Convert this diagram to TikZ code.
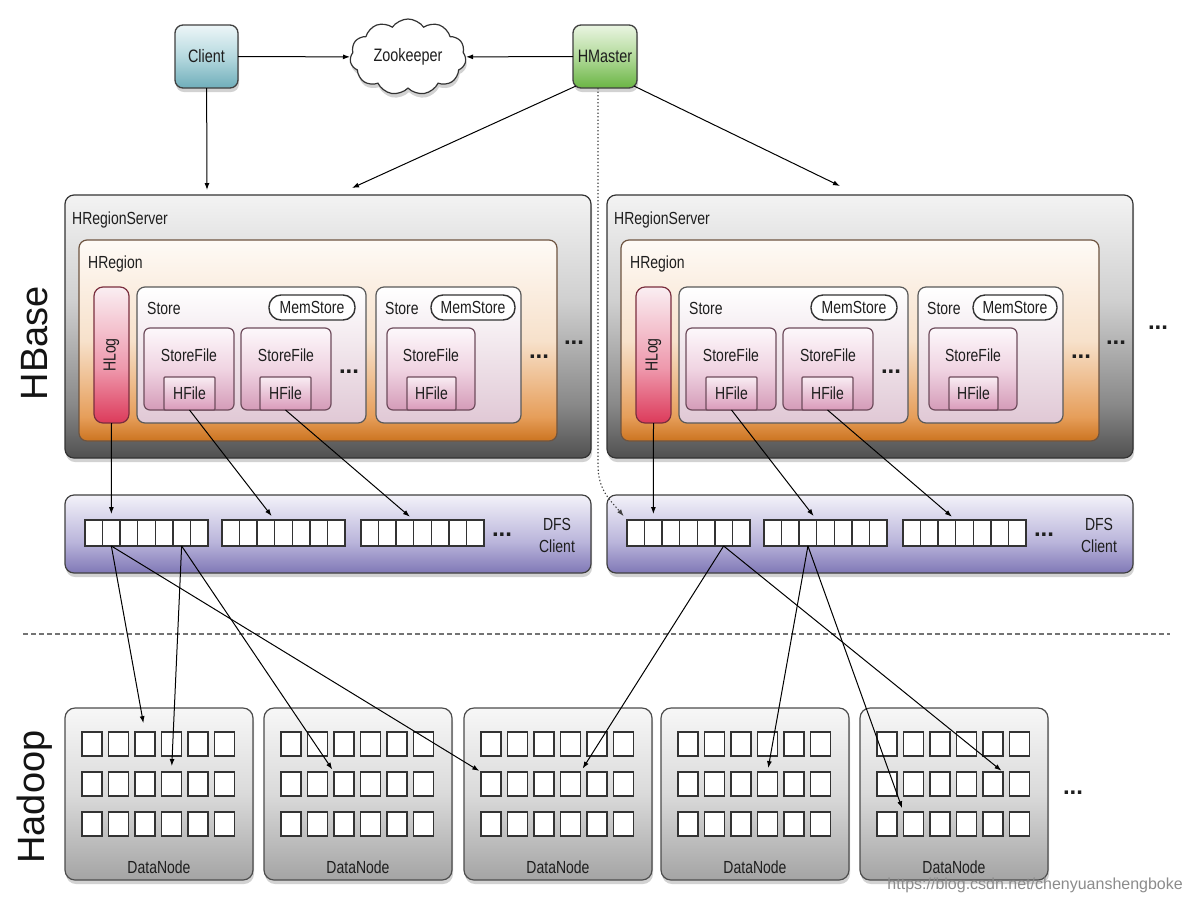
\documentclass[tikz,border=0pt]{standalone}
\usepackage{fontspec}
\setmainfont{Liberation Sans}[FakeStretch=0.8]
\newfontfamily\plainsans{Liberation Sans}
\usetikzlibrary{shapes.symbols,shadows,arrows.meta,calc}

\definecolor{txt}{HTML}{1E1E1E}
\definecolor{rsA}{HTML}{505050}\definecolor{rsB}{HTML}{888888}\definecolor{rsC}{HTML}{D0D0D0}\definecolor{rsD}{HTML}{F3F3F3}
\definecolor{hrA}{HTML}{CC7420}\definecolor{hrB}{HTML}{E69E5A}\definecolor{hrC}{HTML}{F7E1CB}\definecolor{hrD}{HTML}{FEFAF6}
\definecolor{hlA}{HTML}{DC3A5A}\definecolor{hlB}{HTML}{EE98AC}\definecolor{hlC}{HTML}{FAEEF2}
\definecolor{stA}{HTML}{E0C8D5}\definecolor{stB}{HTML}{FFFFFF}
\definecolor{sfA}{HTML}{D49BB8}\definecolor{sfB}{HTML}{F0D4E2}\definecolor{sfC}{HTML}{FDF8FB}
\definecolor{hfA}{HTML}{D99ABA}\definecolor{hfB}{HTML}{F9EDF3}
\definecolor{dfA}{HTML}{8078B6}\definecolor{dfB}{HTML}{BAB5DB}\definecolor{dfC}{HTML}{F3F2F9}
\definecolor{dnA}{HTML}{A4A4A4}\definecolor{dnB}{HTML}{DADADA}\definecolor{dnC}{HTML}{F7F7F7}
\definecolor{clA}{HTML}{6FAEBA}\definecolor{clB}{HTML}{B6D9DF}\definecolor{clC}{HTML}{EDF6F8}
\definecolor{hmA}{HTML}{6AB544}\definecolor{hmB}{HTML}{B2DA9A}\definecolor{hmC}{HTML}{EAF5E2}
\definecolor{hrBorder}{HTML}{6E5440}
\definecolor{hlBorder}{HTML}{7A2E3E}
\definecolor{sfBorder}{HTML}{6E4C5C}

\pgfdeclareverticalshading{rsshade}{100bp}{color(0bp)=(rsA); color(25bp)=(rsA); color(35bp)=(rsB); color(55bp)=(rsC); color(75bp)=(rsD); color(100bp)=(rsD)}
\pgfdeclareverticalshading{hrshade}{100bp}{color(0bp)=(hrA); color(25bp)=(hrA); color(31bp)=(hrB); color(50bp)=(hrC); color(75bp)=(hrD); color(100bp)=(hrD)}
\pgfdeclareverticalshading{hlshade}{100bp}{color(0bp)=(hlA); color(25bp)=(hlA); color(45bp)=(hlB); color(75bp)=(hlC); color(100bp)=(hlC)}
\pgfdeclareverticalshading{stshade}{100bp}{color(0bp)=(stA); color(25bp)=(stA); color(75bp)=(stB); color(100bp)=(stB)}
\pgfdeclareverticalshading{sfshade}{100bp}{color(0bp)=(sfA); color(25bp)=(sfA); color(50bp)=(sfB); color(75bp)=(sfC); color(100bp)=(sfC)}
\pgfdeclareverticalshading{hfshade}{100bp}{color(0bp)=(hfA); color(25bp)=(hfA); color(75bp)=(hfB); color(100bp)=(hfB)}
\pgfdeclareverticalshading{dfshade}{100bp}{color(0bp)=(dfA); color(25bp)=(dfA); color(45bp)=(dfB); color(75bp)=(dfC); color(100bp)=(dfC)}
\pgfdeclareverticalshading{dnshade}{100bp}{color(0bp)=(dnA); color(25bp)=(dnA); color(50bp)=(dnB); color(75bp)=(dnC); color(100bp)=(dnC)}
\pgfdeclareverticalshading{clshade}{100bp}{color(0bp)=(clA); color(25bp)=(clA); color(50bp)=(clB); color(75bp)=(clC); color(100bp)=(clC)}
\pgfdeclareverticalshading{hmshade}{100bp}{color(0bp)=(hmA); color(25bp)=(hmA); color(50bp)=(hmB); color(75bp)=(hmC); color(100bp)=(hmC)}

\tikzset{
  lbl/.style={text=txt, font=\fontsize{17.5}{21}\selectfont, inner sep=0pt},
  frame/.style={line width=1.2pt, inner sep=0pt, outer sep=0pt, text=txt, font=\fontsize{17.5}{21}\selectfont},
  shad/.style={drop shadow={shadow xshift=1pt, shadow yshift=-4pt, opacity=0.35}},
  rsbox/.style={frame, draw=black!80, rounded corners=9pt, shading=rsshade, shade, shad},
  hrbox/.style={frame, draw=hrBorder, rounded corners=8pt, shading=hrshade, shade},
  hlogbox/.style={frame, draw=hlBorder, rounded corners=9pt, shading=hlshade, shade},
  stbox/.style={frame, draw=black!65, rounded corners=8pt, shading=stshade, shade},
  sfbox/.style={frame, draw=sfBorder, rounded corners=6pt, shading=sfshade, shade},
  hfbox/.style={frame, draw=sfBorder, rounded corners=1pt, shading=hfshade, shade},
  msbox/.style={frame, draw=black!80, line width=1.4pt, rounded corners=12pt, fill=white},
  dfsbox/.style={frame, draw=black!75, rounded corners=9pt, shading=dfshade, shade, shad},
  dnbox/.style={frame, draw=black!70, rounded corners=10pt, shading=dnshade, shade, shad},
  clbox/.style={frame, draw=black!75, line width=1.3pt, rounded corners=8pt, shading=clshade, shade, shad, font=\fontsize{18}{20}\selectfont},
  hmbox/.style={frame, draw=black!75, line width=1.3pt, rounded corners=8pt, shading=hmshade, shade, shad, font=\fontsize{18}{20}\selectfont},
  zkbox/.style={cloud, cloud puffs=11, cloud puff arc=110, aspect=1.7, draw=black!80, line width=1.2pt, fill=white, minimum width=116pt, minimum height=76pt, inner sep=0pt, text=txt, font=\fontsize{18}{20}\selectfont, shad},
  cellbox/.style={draw=black!80, line width=1.4pt, fill=white, inner sep=0pt, outer sep=0pt, anchor=north west},
  arr/.style={-{Latex[length=7pt,width=5pt]}, line width=1pt, black},
  dots/.style={font=\plainsans\bfseries\fontsize{24}{24}\selectfont, text=txt, inner sep=0pt},
  bigl/.style={font=\plainsans\fontsize{38}{40}\selectfont, text=black!92, inner sep=0pt, rotate=90},
  dashline/.style={black!55, line width=1.6pt, dash pattern=on 5pt off 3pt},
  dotline/.style={-{Latex[length=7pt,width=5pt]}, black!75, line width=1.1pt, dash pattern=on 1.3pt off 2.2pt},
}

\newcommand\bx[7]{\node[#6, anchor=north west, minimum width={(#4)-(#2)}, minimum height={(#5)-(#3)}] (#1) at ({#2},{#3}) {#7};}

\begin{document}
\begin{tikzpicture}[x=1pt,y=-1pt]
\fill[white] (0,0) rectangle (1191,903);
\useasboundingbox (0,0) rectangle (1191,903);

% side labels
\node[bigl] (hbase) at (35,343) {HBase};
\node[bigl] (hadoop) at (35,797) {Hadoop};

% top row
\bx{client}{175}{25}{238}{88}{clbox}{Client}
\bx{hm}{573}{25}{637}{88}{hmbox}{HMaster}
\node[zkbox] (zk) at (408,57) {Zookeeper};

% region servers and DFS clients
\foreach \ox/\s in {0/L,542/R}{
  \bx{rs\s}{65+\ox}{195}{591+\ox}{458}{rsbox}{}
  \node[lbl, anchor=west] at ({72+\ox},220) {HRegionServer};
  \bx{hr\s}{79+\ox}{240}{557+\ox}{441}{hrbox}{}
  \node[lbl, anchor=west] at ({88+\ox},264) {HRegion};
  \bx{hlog\s}{94+\ox}{287}{129+\ox}{423}{hlogbox}{}
  \node[lbl, rotate=90] at (hlog\s) {HLog};
  \bx{st1\s}{137+\ox}{287}{366+\ox}{423}{stbox}{}
  \node[lbl, anchor=west] at ({147+\ox},308) {Store};
  \bx{ms1\s}{269+\ox}{295}{355+\ox}{320}{msbox}{MemStore}
  \bx{sf1\s}{144+\ox}{328}{234+\ox}{410}{sfbox}{}
  \node[lbl] at ({189+\ox},355) {StoreFile};
  \bx{hf1\s}{164+\ox}{377}{215+\ox}{410}{hfbox}{HFile}
  \bx{sf2\s}{241+\ox}{328}{331+\ox}{410}{sfbox}{}
  \node[lbl] at ({286+\ox},355) {StoreFile};
  \bx{hf2\s}{260+\ox}{377}{311+\ox}{410}{hfbox}{HFile}
  \node[dots] at ({349+\ox},372) {...};
  \bx{st2\s}{376+\ox}{287}{521+\ox}{423}{stbox}{}
  \node[lbl, anchor=west] at ({385+\ox},308) {Store};
  \bx{ms2\s}{431+\ox}{295}{515+\ox}{320}{msbox}{MemStore}
  \bx{sf3\s}{387+\ox}{328}{475+\ox}{410}{sfbox}{}
  \node[lbl] at ({431+\ox},355) {StoreFile};
  \bx{hf3\s}{407+\ox}{377}{456+\ox}{410}{hfbox}{HFile}
  \node[dots] at ({539+\ox},357) {...};
  \node[dots] at ({574+\ox},343) {...};
  % DFS client
  \bx{dfs\s}{65+\ox}{495}{591+\ox}{573}{dfsbox}{}
  \foreach \b/\bl in {1/85,2/222,3/361}{
    \foreach \c in {1,...,7}{
      \node[cellbox, minimum width=17.57, minimum height=26] (dfs\s-\b-\c) at ({\bl+\ox+(\c-1)*17.57},520) {};
    }
  }
  \node[dots] at ({502+\ox},535) {...};
  \node[lbl, align=center, font=\fontsize{17.5}{22}\selectfont] at ({557+\ox},535) {DFS\\Client};
}
\node[dots] at (1158,328) {...};

% separator
\draw[dashline] (23,634) -- (1170,634);

% data nodes
\foreach \k/\xo in {1/65,2/264,3/464,4/661,5/860}{
  \bx{dn\k}{\xo}{708}{\xo+188}{880}{dnbox}{}
  \node[lbl] at ({\xo+94},867) {DataNode};
  \foreach \r/\yy in {1/732,2/772,3/812}{
    \foreach \c in {1,...,6}{
      \node[cellbox, minimum width=20, minimum height=24] (dn\k-\r-\c) at ({\xo+17+(\c-1)*26.5},\yy) {};
    }
  }
}
\node[dots] at (1073,793) {...};

% connectors at top
\coordinate (cin) at (207,190);
\coordinate (hmL) at (352,188);
\coordinate (hmR) at (840,186);
\coordinate (dbend) at (598,465);
\draw[arr] (client) -- (zk);
\draw[arr] (hm) -- (zk);
\draw[arr] (client) -- (cin);
\draw[arr] ([xshift=3pt,yshift=2pt]hm.south west) -- (hmL);
\draw[arr] ([xshift=-3pt,yshift=2pt]hm.south east) -- (hmR);
\draw[dotline, shorten >=5pt] ([xshift=-7pt]hm.south) -- (dbend) .. controls (598,490) and (610,500) .. (dfsR-1-1.north west);

% region -> DFS
\foreach \s in {L,R}{
  \draw[arr, shorten >=6pt] (hlog\s.south) -- (dfs\s-1-2.north);
  \draw[arr, shorten >=5pt] (hf1\s.south) -- (dfs\s-2-3.north east);
  \draw[arr, shorten >=5pt] (hf2\s.south) -- (dfs\s-3-3.north east);
}

% DFS -> DataNodes
\draw[arr, shorten >=9pt] (dfsL-1-2.south) -- (dn1-1-3.north);
\draw[arr, shorten >=6pt] (dfsL-1-6.south) -- (dn1-2-4.north);
\draw[arr, shorten >=3pt] (dfsL-1-6.south) -- (dn2-2-3.north west);
\draw[arr, shorten >=2pt] (dfsL-1-2.south) -- (dn3-2-1.north west);
\draw[arr, shorten >=4pt] (dfsR-1-6.south) -- (dn3-2-4.north east);
\draw[arr, shorten >=4pt] (dfsR-2-3.south) -- (dn4-2-4.north);
\draw[arr, shorten >=4pt] (dfsR-2-3.south) -- (dn5-3-2.north west);
\draw[arr, shorten >=2pt] (dfsR-1-6.south) -- (dn5-2-5.north east);

% watermark
\node[anchor=east, text=black!45, font=\plainsans\fontsize{16}{16}\selectfont, inner sep=0pt] (wm) at (1183,885) {https://blog.csdn.net/chenyuanshengboke};
\end{tikzpicture}
\end{document}
